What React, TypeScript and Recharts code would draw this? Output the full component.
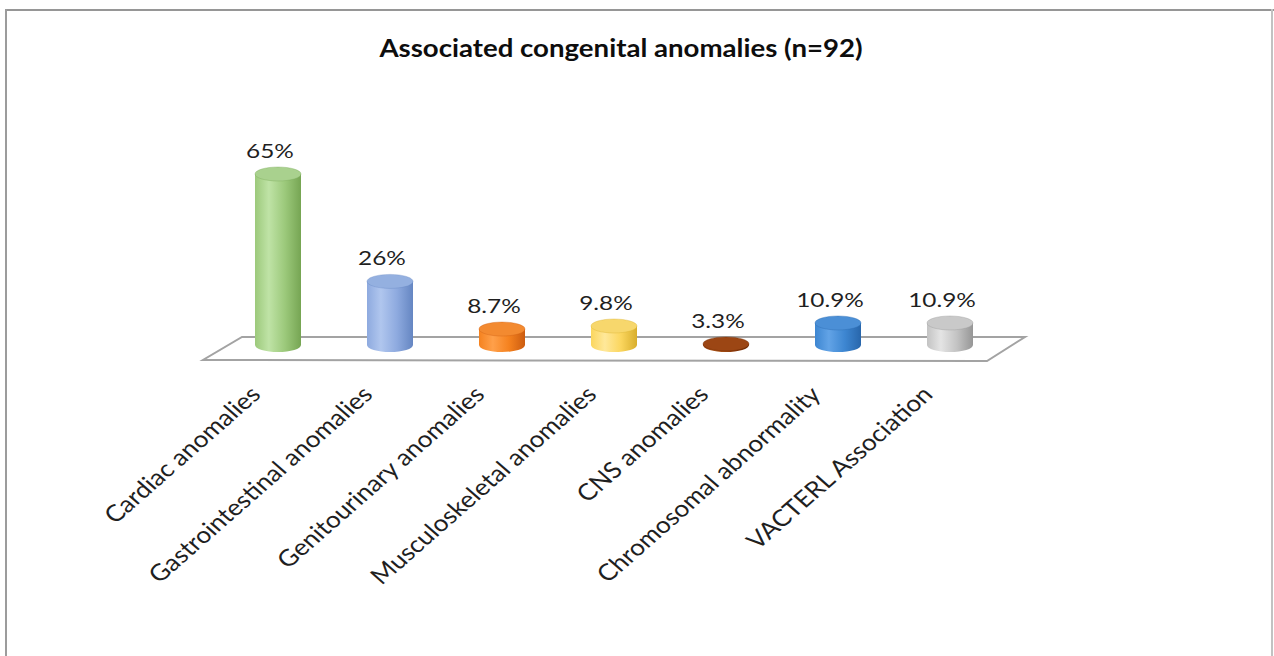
import React from "react";
import { BarChart, Bar, XAxis, YAxis, Cell, LabelList } from "recharts";

const categories = [
  "Cardiac anomalies",
  "Gastrointestinal anomalies",
  "Genitourinary anomalies",
  "Musculoskeletal anomalies",
  "CNS anomalies",
  "Chromosomal abnormality",
  "VACTERL Association",
];
const percentages = [65, 26, 8.7, 9.8, 3.3, 10.9, 10.9];

// edge / highlight / body / top colours per cylinder
const palette = [
  { edge: "#76a553", light: "#bfe3a6", body: "#9cc97b", top: "#a9d18e" },
  { edge: "#6586c2", light: "#b0c6ee", body: "#8eaadf", top: "#94b0e0" },
  { edge: "#cc5c10", light: "#ffa04a", body: "#f5821f", top: "#f38a30" },
  { edge: "#d8ae2c", light: "#ffe89a", body: "#fbd65e", top: "#f7d76c" },
  { edge: "#6a2804", light: "#b25a1c", body: "#933d0c", top: "#9c4614" },
  { edge: "#2866ab", light: "#62a3e6", body: "#3d86d1", top: "#4b8fd6" },
  { edge: "#969696", light: "#e4e4e4", body: "#c3c3c3", top: "#c9c9c9" },
];

const data = categories.map((name, i) => ({ name, value: percentages[i] }));

const FONT = "Lato, 'Open Sans', sans-serif";

function Cylinder(props: any) {
  const { x, y, width, height, index } = props;
  const c = palette[index];
  const rx = width / 2;
  const ry = 7;
  const top = y;
  const base = Math.max(y + height - 8, top);
  const id = `cyl-${index}`;
  return (
    <g>
      <defs>
        <linearGradient id={id} x1="0" y1="0" x2="1" y2="0">
          <stop offset="0" stopColor={c.body} />
          <stop offset="0.3" stopColor={c.light} />
          <stop offset="0.65" stopColor={c.body} />
          <stop offset="1" stopColor={c.edge} />
        </linearGradient>
      </defs>
      <path
        d={`M${x},${top} L${x},${base} A${rx},${ry} 0 0 0 ${x + width},${base} L${x + width},${top} Z`}
        fill={`url(#${id})`}
      />
      <ellipse cx={x + rx} cy={top} rx={rx} ry={ry} fill={c.top} stroke={c.edge} strokeOpacity={0.35} />
    </g>
  );
}

function ValueLabel(props: any) {
  const { x, y, width, value } = props;
  const cx = x + width / 2 - 8;
  return (
    <text
      transform={`translate(${cx},${y - 16}) scale(1.22,1)`}
      textAnchor="middle"
      fontFamily={FONT}
      fontSize={20}
      fill="#1f1f1f"
    >
      {`${value}%`}
    </text>
  );
}

function CategoryTick(props: any) {
  const { x, payload } = props;
  return (
    <text
      transform={`translate(${x - 16},396) scale(1.14,1) rotate(-45)`}
      textAnchor="end"
      fontFamily={FONT}
      fontSize={23}
      fill="#1f1f1f"
    >
      {payload.value}
    </text>
  );
}

export default function App() {
  return (
    <div style={{ position: "fixed", left: 0, top: 0, width: 1274, height: 656, overflow: "hidden", background: "#fff" }}>
      <svg width={1274} height={656} style={{ position: "absolute", left: 0, top: 0 }}>
        <text
          transform={`translate(621,57) scale(1.15,1)`}
          textAnchor="middle"
          fontFamily={FONT}
          fontWeight={700}
          fontSize={24}
          fill="#0d0d0d"
        >
          Associated congenital anomalies (n=92)
        </text>
        <polygon points="203,360 987,361 1025,337 242,337" fill="#fff" stroke="#a3a3a3" strokeWidth={2} />
      </svg>
      <div style={{ position: "absolute", left: 0, top: 0 }}>
        <BarChart width={1274} height={656} data={data} margin={{ top: 174, right: 268, bottom: 273, left: 222 }}>
          <YAxis hide domain={[0, 65]} />
          <XAxis dataKey="name" axisLine={false} tickLine={false} interval={0} tick={<CategoryTick />} />
          <Bar dataKey="value" barSize={46} isAnimationActive={false} shape={<Cylinder />}>
            {data.map((d, i) => (
              <Cell key={d.name} fill={palette[i].body} />
            ))}
            <LabelList dataKey="value" content={<ValueLabel />} />
          </Bar>
        </BarChart>
      </div>
      <svg width={1274} height={656} style={{ position: "absolute", left: 0, top: 0, pointerEvents: "none" }}>
        <line x1={5} y1={10} x2={1274} y2={10} stroke="#969696" strokeWidth={2} />
        <rect x={5} y={9} width={2} height={647} fill="#9c9c9c" />
        <rect x={1271} y={9} width={2} height={647} fill="#c2c2c2" />
      </svg>
    </div>
  );
}
